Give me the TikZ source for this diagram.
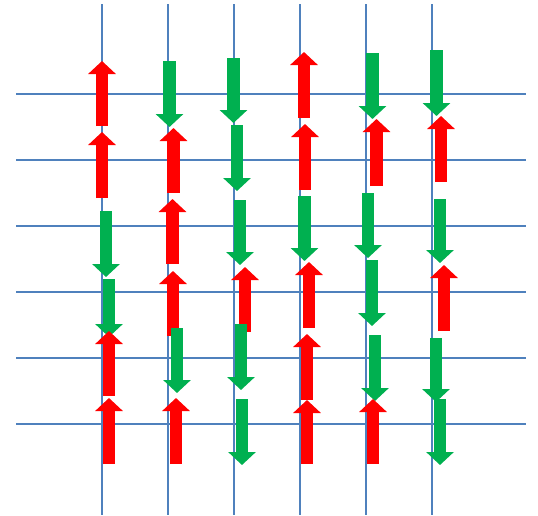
\documentclass[tikz,border=0pt]{standalone}
\usetikzlibrary{arrows.meta}

\definecolor{gridblue}{RGB}{79,129,189}
\definecolor{spingreen}{RGB}{0,176,80}

\begin{document}
\begin{tikzpicture}[
    x=1pt,y=-1pt,
    gridline/.style={draw=gridblue,line width=1.4pt},
    up/.style={draw=red,line width=12.7pt,-{Triangle[length=13pt,width=27pt]}},
    down/.style={draw=spingreen,line width=12.7pt,-{Triangle[length=13pt,width=27pt]}},
]
    \useasboundingbox (0,0) rectangle (538,515);

    %%%
    % lattice
    \foreach \y in {94,160,226,292,358,424}
    \draw[gridline] (16,\y) -- (526,\y);
    \foreach \x in {102,168,234,300,366,432}
    \draw[gridline] (\x,4) -- (\x,515);

    %%%
    % spins, column by column (x / tail / tip / up or down)
    \foreach \x/\a/\b/\s in {
        102/126/61/up, 102/198/132/up, 106/211/277/down,
        109/279/337/down, 109/396/331/up, 109/464/398/up}
    \draw[\s] (\x,\a) -- (\x,\b);
    \foreach \x/\a/\b/\s in {
        169.5/61/127/down, 173.5/193/128/up, 172.5/264/199/up,
        173/336/271/up, 177/328/393/down, 176/464/398/up}
    \draw[\s] (\x,\a) -- (\x,\b);
    \foreach \x/\a/\b/\s in {
        233.5/58/123/down, 237/125/191/down, 240/200/265/down,
        245/332/267/up, 241/324/390/down, 242/399/465/down}
    \draw[\s] (\x,\a) -- (\x,\b);
    \foreach \x/\a/\b/\s in {
        304/118/52/up, 305/190/124/up, 304.5/196/261/down,
        309/328/262/up, 307/400/334/up, 307/464/400/up}
    \draw[\s] (\x,\a) -- (\x,\b);
    \foreach \x/\a/\b/\s in {
        372.5/53/119/down, 376.5/186/119/up, 368/193/258/down,
        372/260/326/down, 375/335/401/down, 373/464/399/up}
    \draw[\s] (\x,\a) -- (\x,\b);
    \foreach \x/\a/\b/\s in {
        436.5/50/116/down, 441/182/116/up, 440/199/263/down,
        444/331/265/up, 436/338/402/down, 440/399/465/down}
    \draw[\s] (\x,\a) -- (\x,\b);

\end{tikzpicture}
\end{document}
